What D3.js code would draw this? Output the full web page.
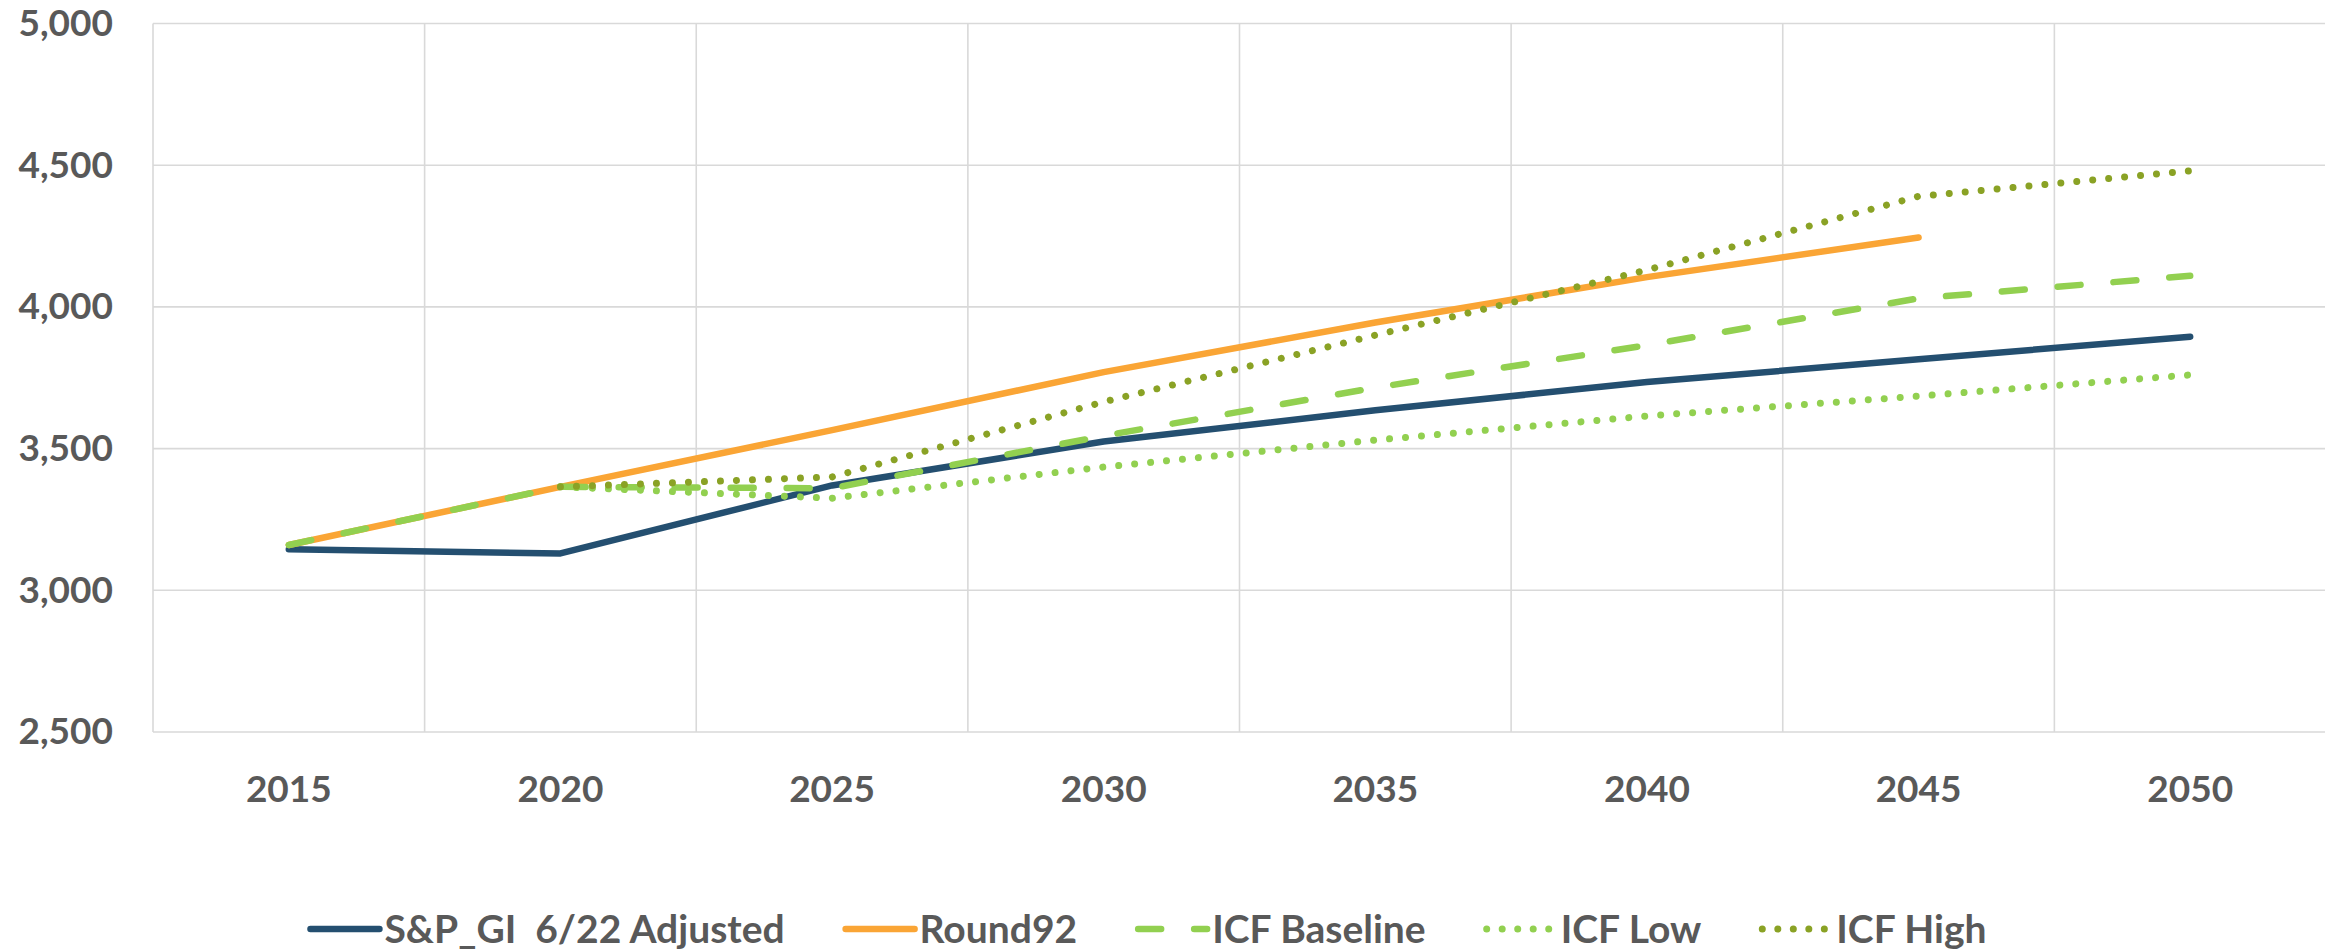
<!DOCTYPE html>
<html>
<head>
<meta charset="utf-8">
<script src="https://cdn.jsdelivr.net/npm/d3@7"></script>
<style>
  html, body { margin: 0; padding: 0; background: #fff; }
  svg { display: block; }
  text { font-family: Lato, "Open Sans", sans-serif; font-weight: bold; fill: #595959; }
</style>
</head>
<body>
<svg id="chart" width="2325" height="952"></svg>
<script>
// ---- data ----
const years = ["2015", "2020", "2025", "2030", "2035", "2040", "2045", "2050"];
const spGI = [3145, 3130, 3370, 3525, 3635, 3735, 3815, 3895];
const round92 = [3160, 3365, 3565, 3770, 3945, 4105, 4245, null];
const icfBaseline = [3160, 3365, 3360, 3545, 3715, 3865, 4030, 4110];
const icfLow = [null, 3365, 3325, 3435, 3530, 3615, 3685, 3760];
const icfHigh = [null, 3365, 3400, 3665, 3900, 4130, 4390, 4480];
const yTicks = [2500, 3000, 3500, 4000, 4500, 5000];
const seriesNames = ["S&P_GI  6/22 Adjusted", "Round92", "ICF Baseline", "ICF Low", "ICF High"];

// ---- layout ----
const plotL = 153, plotR = 2326, plotT = 23.5, plotB = 732;

const series = [
  { name: seriesNames[0], values: spGI, color: "#244F70", dash: null },
  { name: seriesNames[1], values: round92, color: "#FAA535", dash: null },
  { name: seriesNames[2], values: icfBaseline, color: "#92D050", dash: "23 33" },
  { name: seriesNames[3], values: icfLow, color: "#92D050", dash: "0.01 16" },
  { name: seriesNames[4], values: icfHigh, color: "#8AA225", dash: "0.01 16" }
];

const svg = d3.select("#chart");

const x = d3.scaleBand().domain(years).range([plotL, plotR]).paddingInner(0).paddingOuter(0);
const y = d3.scaleLinear().domain([2500, 5000]).range([plotB, plotT]);

// gridlines
const grid = svg.append("g").attr("class", "grid");
grid.selectAll("line.h").data(yTicks).enter().append("line")
  .attr("class", "h")
  .attr("x1", plotL).attr("x2", plotR)
  .attr("y1", d => y(d)).attr("y2", d => y(d))
  .attr("stroke", "#D9D9D9").attr("stroke-width", 1.6);
const edges = years.map(d => x(d)).concat([x(years[years.length - 1]) + x.bandwidth()]);
grid.selectAll("line.v").data(edges).enter().append("line")
  .attr("class", "v")
  .attr("x1", d => d).attr("x2", d => d)
  .attr("y1", plotT).attr("y2", plotB)
  .attr("stroke", "#D9D9D9").attr("stroke-width", 1.6);

// axes
const yAxis = d3.axisLeft(y).tickValues(yTicks).tickFormat(d3.format(",")).tickSize(0).tickPadding(40);
const gy = svg.append("g").attr("transform", `translate(${plotL},0)`).call(yAxis);
gy.select(".domain").remove();
gy.selectAll("text").style("font-size", "37px").attr("fill", "#595959")
  .style("font-family", "Lato, 'Open Sans', sans-serif").style("font-weight", "bold");

const xAxis = d3.axisBottom(x).tickSize(0).tickPadding(44);
const gx = svg.append("g").attr("transform", `translate(0,${plotB})`).call(xAxis);
gx.select(".domain").remove();
gx.selectAll("text").style("font-size", "37px").attr("fill", "#595959")
  .style("font-family", "Lato, 'Open Sans', sans-serif").style("font-weight", "bold");

// lines
const line = d3.line()
  .defined(d => d.v != null)
  .x(d => x(d.year) + x.bandwidth() / 2)
  .y(d => y(d.v));

series.forEach(s => {
  const pts = years.map((yr, i) => ({ year: yr, v: s.values[i] }));
  const p = svg.append("path")
    .datum(pts)
    .attr("d", line)
    .attr("fill", "none")
    .attr("stroke", s.color)
    .attr("stroke-width", s.dash && s.dash.startsWith("0.01") ? 7 : 6.5)
    .attr("stroke-linecap", "round")
    .attr("stroke-linejoin", "round");
  if (s.dash) p.attr("stroke-dasharray", s.dash);
});

// legend
const legend = svg.append("g").attr("class", "legend");
const swatchLen = 72, textGap = 5, itemGap = 58, legY = 929, legendCenter = 1147;
const items = series.map(s => {
  const g = legend.append("g");
  const dotted = s.dash && s.dash.startsWith("0.01");
  const sw = g.append("line")
    .attr("x1", 3).attr("x2", swatchLen).attr("y1", legY).attr("y2", legY)
    .attr("stroke", s.color).attr("stroke-width", dotted ? 7 : 6.5)
    .attr("stroke-linecap", "round");
  if (s.dash) sw.attr("stroke-dasharray", dotted ? "0.01 15.5" : s.dash);
  const t = g.append("text")
    .attr("x", swatchLen + textGap)
    .attr("y", legY + 14)
    .style("font-size", "39px")
    .style("white-space", "pre")
    .attr("xml:space", "preserve")
    .text(s.name);
  const w = swatchLen + textGap + t.node().getComputedTextLength();
  return { g, w };
});
const total = d3.sum(items, d => d.w) + itemGap * (items.length - 1);
let cx = legendCenter - total / 2;
items.forEach(it => {
  it.g.attr("transform", `translate(${cx},0)`);
  cx += it.w + itemGap;
});
</script>
</body>
</html>
